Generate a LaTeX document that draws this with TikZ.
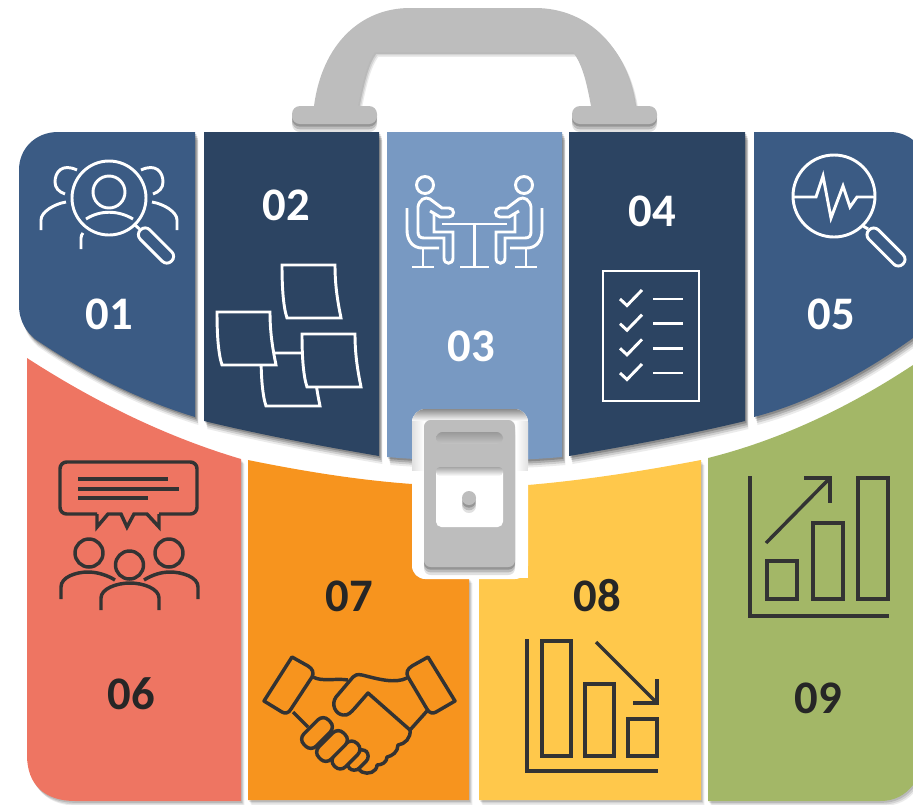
\documentclass[tikz,border=0pt]{standalone}
\usepackage{fontspec}
\setmainfont{Carlito}
\usetikzlibrary{shadows}
\definecolor{midblue}{HTML}{3B5B84}
\definecolor{darkblue}{HTML}{2C4462}
\definecolor{paleblue}{HTML}{7899C2}
\definecolor{salmon}{HTML}{EE7562}
\definecolor{orange}{HTML}{F7941E}
\definecolor{amber}{HTML}{FFC84B}
\definecolor{olive}{HTML}{A3B767}
\definecolor{metal}{HTML}{BDBDBD}
\definecolor{inkgrey}{HTML}{333333}
\definecolor{numdark}{HTML}{262626}
\tikzset{
  softshadow/.style={
    drop shadow={shadow xshift=2.6pt,shadow yshift=-3.6pt,opacity=.08,fill=black},
    drop shadow={shadow xshift=1.8pt,shadow yshift=-2.6pt,opacity=.10,fill=black},
    drop shadow={shadow xshift=1pt,shadow yshift=-1.4pt,opacity=.12,fill=black}},
  deepshadow/.style={
    drop shadow={shadow xshift=2.6pt,shadow yshift=-6pt,opacity=.08,fill=black},
    drop shadow={shadow xshift=2.2pt,shadow yshift=-4.5pt,opacity=.12,fill=black},
    drop shadow={shadow xshift=1.8pt,shadow yshift=-3pt,opacity=.16,fill=black},
    drop shadow={shadow xshift=1pt,shadow yshift=-1.5pt,opacity=.2,fill=black}},
  dropdown/.style={
    drop shadow={shadow xshift=0pt,shadow yshift=-6pt,opacity=.12,fill=black},
    drop shadow={shadow xshift=0pt,shadow yshift=-4pt,opacity=.16,fill=black},
    drop shadow={shadow xshift=0pt,shadow yshift=-2pt,opacity=.2,fill=black}},
  numlabel/.style={font=\bfseries\fontsize{35}{35}\selectfont,inner sep=0pt},
  iconwhite/.style={draw=white,line width=2.2pt},
  icondark/.style={draw=inkgrey,line width=2.6pt},
  capsule/.style={draw=white,line width=2.2pt,rounded corners=4.8pt,rotate=-45,
    inner sep=0pt,minimum height=10pt},
  finger/.style={draw=inkgrey,line width=2.6pt,fill=orange,rotate=45,inner sep=0pt,
    rounded corners=5.5pt}
}
\begin{document}
\begin{tikzpicture}[x=0.75pt,y=-0.75pt]
  \useasboundingbox (0,0) rectangle (913,804);

  % handle
  \fill[metal,softshadow] (314,106) .. controls (322,45) and (360,8) .. (410,8) -- (535,8)
    .. controls (590,8) and (628,50) .. (635,106) -- (591,106)
    .. controls (587,85) and (583,65) .. (573,52) -- (375,52)
    .. controls (367,62) and (362,85) .. (358,106) -- cycle;
  \fill[metal,dropdown,rounded corners=6pt] (292,106) rectangle (377,124);
  \fill[metal,dropdown,rounded corners=6pt] (572,106) rectangle (657,124);

  % lower panels
  \fill[salmon,softshadow] (27,358) .. controls (98,404) and (170,438) .. (241,459)
    -- (241,801) -- (75,801) .. controls (45,801) and (27,785) .. (27,755) -- cycle;
  \fill[orange,softshadow] (248,460) .. controls (302,471) and (357,480) .. (412,484)
    -- (412,565) .. controls (412,573) and (417,578) .. (425,578) -- (469,578) -- (469,800)
    -- (248,800) -- cycle;
  \fill[amber,softshadow] (479,578) -- (528,578) -- (528,485)
    .. controls (586,480) and (643,471) .. (701,460) -- (701,800) -- (479,800) -- cycle;
  \fill[olive,softshadow] (708,458) .. controls (776,441) and (845,410) .. (913,365)
    -- (913,785) .. controls (905,795) and (895,801) .. (880,801) -- (708,801) -- cycle;

  % upper panels
  \fill[midblue,deepshadow] (58,132) -- (195,132) -- (195,417)
    .. controls (142,401) and (88,375) .. (35,339)
    .. controls (27,332) and (19,322) .. (19,305) -- (19,170)
    .. controls (19,148) and (36,132) .. (58,132) -- cycle;
  \fill[darkblue,deepshadow] (204,132) -- (379,132) -- (379,456)
    .. controls (321,446) and (262,435) .. (204,421) -- cycle;
  \fill[paleblue,deepshadow] (387,132) -- (562,132) -- (562,457)
    .. controls (504,462) and (445,462) .. (387,457) -- cycle;
  \fill[darkblue,deepshadow] (569,132) -- (745,132) -- (745,421)
    .. controls (687,435) and (628,446) .. (569,456) -- cycle;
  \fill[midblue,deepshadow] (754,132) -- (890,132) .. controls (900,132) and (908,136) .. (913,140)
    -- (913,338) .. controls (860,376) and (807,403) .. (754,417) -- cycle;

  % numbers
  \foreach \nm/\nx/\ny in {01/109/314,02/286/205,03/471/346,04/652/211,05/831/314}{
    \node[numlabel,text=white] (num\nm) at (\nx,\ny) {\nm};
  }
  \foreach \nm/\nx/\ny in {06/131/694,07/349/596,08/597/596,09/818/698}{
    \node[numlabel,text=numdark] (num\nm) at (\nx,\ny) {\nm};
  }

  % 01 people under the glass
  \draw[iconwhite] (109,198) circle (37);
  \draw[iconwhite] (109,192) circle (16);
  \draw[iconwhite] (86,219) .. controls (100,210) and (118,210) .. (133,219);
  \draw[iconwhite] (77,170) .. controls (62,163) and (55,172) .. (55,182) .. controls (55,188) and (59,192) .. (65,194);
  \draw[iconwhite] (141,170) .. controls (156,163) and (163,172) .. (163,182) .. controls (163,188) and (159,192) .. (153,194);
  \draw[iconwhite] (41,230) -- (41,220) .. controls (41,212) and (54,204) .. (66,202);
  \draw[iconwhite] (177,230) -- (177,220) .. controls (177,212) and (164,204) .. (152,202);
  \draw[iconwhite] (81,249) -- (81,238) .. controls (81,236) and (82,234) .. (83,233);
  \node[capsule,minimum width=33pt] (lens1) at (156,245.5) {};
  \draw[iconwhite] (135,225) -- (lens1.west);

  % 02 sticky notes
  \foreach \nx/\ny in {261/353,282/265,217/312,302/334}{
    \draw[iconwhite,fill=darkblue] (\nx,\ny) -- ++(53,0) .. controls +(0,22) and +(-3,-15) .. ++(6,53)
      -- ++(-54,0) .. controls +(-4,-12) and +(0,20) .. (\nx,\ny) -- cycle;
  }

  % 03 two people at a table
  \foreach \flip/\org in {1/0,-1/949}{
    \begin{scope}[shift={(\org,0)},xscale=\flip]
      \draw[iconwhite] (425,185) circle (8.5);
      \draw[iconwhite] (407,208) -- (407,230) .. controls (407,241) and (413,248) .. (422,248) -- (439,248);
      \draw[iconwhite] (423,248) -- (423,267);
      \draw[iconwhite] (412,267) -- (434,267);
      \draw[iconwhite] (418,232) -- (418,207) .. controls (419,200) and (425,196) .. (430,199) -- (442,208)
        -- (449,208) .. controls (455,208) and (455,217) .. (449,217) -- (440,217) -- (430,211);
      \draw[iconwhite] (434,214) -- (434,232) -- (453,232) -- (453,258) .. controls (453,265) and (444,265) .. (444,258)
        -- (444,238) -- (424,238) .. controls (420,238) and (418,236) .. (418,232);
      \draw[iconwhite] (442,224) -- (474.5,224);
    \end{scope}
  }
  \draw[iconwhite] (474.5,224) -- (474.5,267);
  \draw[iconwhite] (460,267) -- (489,267);

  % 04 checklist
  \draw[iconwhite] (603,271) rectangle (699,401);
  \foreach \cy in {299,323.7,348.3,373}{
    \draw[iconwhite] (620,\cy) -- ++(7,6.5) -- ++(15,-15.5);
    \draw[iconwhite] (653,\cy) -- (683,\cy);
  }

  % 05 pulse under the glass
  \draw[iconwhite] (834,196) circle (41);
  \draw[iconwhite] (793,197) -- (816,197) -- (823,176) -- (831,218) -- (843,186) -- (850,207) -- (857,197) -- (874,197);
  \node[capsule,minimum width=36pt] (lens5) at (886,247) {};
  \draw[iconwhite] (863,226) -- (lens5.west);

  % 06 speech bubble and audience
  \draw[icondark,rounded corners=5pt] (97,514) -- (60,514) -- (60,462) -- (197,462) -- (197,514) -- (159,514);
  \draw[icondark,line join=miter] (97,514) -- (97,527) -- (108,514) -- (121,514) -- (127,527) -- (134,514) -- (147,514) -- (159,527) -- (159,514);
  \draw[icondark] (78,479) -- (168,479);
  \draw[icondark] (78,489) -- (179,489);
  \draw[icondark] (78,498) -- (148,498);
  \foreach \hx/\hy in {89/553,169/553,129.5/565}{
    \draw[icondark] (\hx,\hy) circle (14);
  }
  \draw[icondark] (61,599) -- (61,587) .. controls (61,577) and (76,572) .. (88,572) .. controls (97,572) and (107,575) .. (115,580);
  \draw[icondark] (198,599) -- (198,587) .. controls (198,577) and (182,572) .. (170,572) .. controls (161,572) and (152,575) .. (144,580);
  \draw[icondark] (101,610) -- (101,598) .. controls (101,589) and (116,583) .. (130,583) .. controls (144,583) and (159,589) .. (159,598) -- (159,610);

  % 07 handshake
  \draw[icondark,line join=round] (313,677) .. controls (322,682) and (336,678) .. (348,680);
  \draw[icondark,line join=round] (407,678) .. controls (395,684) and (378,679) .. (362,675)
    .. controls (357,674) and (355,675) .. (353,677) -- (336,697)
    .. controls (331,704) and (335,714) .. (343,715) .. controls (348,716) and (351,712) .. (354,709)
    -- (368,693) -- (410,730);
  \draw[icondark,line join=round] (427,711) -- (410,730) .. controls (411,738) and (405,744) .. (398,745)
    .. controls (398,752) and (392,756) .. (387,757) .. controls (387,762) and (382,765) .. (377,765)
    .. controls (377,772) and (368,775) .. (362,772) -- (357,768);
  \draw[icondark] (293,712) -- (308,727);
  \node[finger,minimum width=18pt,minimum height=10pt] (grip4) at (358,760) {};
  \node[finger,minimum width=24pt,minimum height=12pt] (grip3) at (346,755) {};
  \node[finger,minimum width=26pt,minimum height=13pt] (grip2) at (332,746) {};
  \node[finger,minimum width=26pt,minimum height=13pt] (grip1) at (317,733) {};
  \fill[orange,draw=inkgrey,line width=2.6pt,line join=round] (292,657) -- (308,666)
    .. controls (313,669) and (314,673) .. (312,677) -- (291,709) .. controls (289,713) and (285,714) .. (282,712) -- (264,701) -- cycle;
  \fill[orange,draw=inkgrey,line width=2.6pt,line join=round] (428,657) -- (412,666)
    .. controls (407,669) and (406,673) .. (408,677) -- (427,709) .. controls (429,713) and (433,714) .. (436,712) -- (455,701) -- cycle;

  % 08 falling bars
  \draw[icondark] (527,639) -- (527,771) -- (658,771);
  \foreach \bx/\by in {542/641,585/684,628/719}{
    \draw[icondark] (\bx,\by) rectangle (\bx+29,756);
  }
  \draw[icondark] (596,642) -- (657,703);
  \draw[icondark] (633,703) -- (657,703) -- (657,679);

  % 09 rising bars
  \draw[icondark] (750,476) -- (750,616) -- (889,616);
  \foreach \bx/\by in {767/561,813/523,858/478}{
    \draw[icondark] (\bx,\by) rectangle (\bx+30,599);
  }
  \draw[icondark] (766,543) -- (830,478);
  \draw[icondark] (804,478) -- (830,478) -- (830,503);

  % clasp
  \fill[white,rounded corners=10pt] (412,409) rectangle (528,579);
  \begin{scope}
    \clip[rounded corners=10pt] (412,409) rectangle (528,579);
    \shade[top color=black!45,bottom color=white] (412,409) rectangle (528,421);
    \shade[left color=black!12,right color=white] (412,421) rectangle (424,470);
    \shade[right color=black!12,left color=white] (516,421) rectangle (528,470);
  \end{scope}
  \fill[metal,dropdown,rounded corners=5pt] (424,420) rectangle (515,567);
  \shade[top color=black!40,bottom color=metal!90!white,rounded corners=5pt] (436,432) rectangle (503,444);
  \fill[white,rounded corners=4pt] (436,467) rectangle (503,527);
  \shade[top color=black!35,bottom color=white,rounded corners=3pt] (436,467) rectangle (503,476);
  \fill[metal,dropdown] (469,498) circle (7);
\end{tikzpicture}
\end{document}
